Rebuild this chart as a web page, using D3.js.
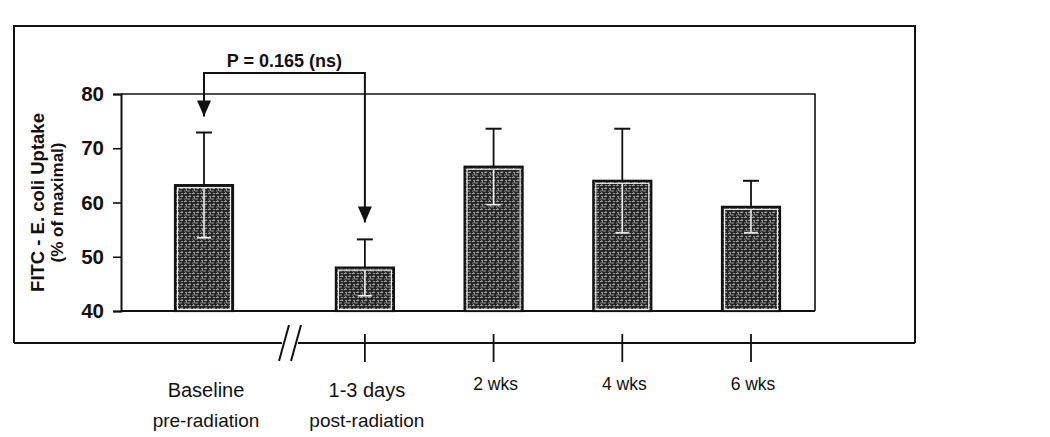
<!DOCTYPE html>
<html><head><meta charset="utf-8">
<script src="https://cdn.jsdelivr.net/npm/d3@7/dist/d3.min.js"></script>
<style>
body{margin:0;background:#fff;}
text{font-family:"Liberation Sans",Arial,sans-serif;fill:#111;}
</style></head><body>
<svg id="c" width="1050" height="437"></svg>
<script>
// ---- data ----
const categories = ["Baseline", "1-3 days", "2 wks", "4 wks", "6 wks"];
const subLabels  = ["pre-radiation", "post-radiation", "", "", ""];
const slots      = [0, 1.25, 2.25, 3.25, 4.25];   // position along time axis (break after baseline)
const means      = [63.2, 48.0, 66.6, 64.0, 59.2];
const errors     = [9.7, 5.2, 7.0, 9.6, 4.8];
const yTicks     = [40, 50, 60, 70, 80];
const pLabel     = "P = 0.165 (ns)";
const yTitle1    = "FITC - E. coli Uptake";
const yTitle2    = "(% of maximal)";

const svg = d3.select("#c");

// layout
const plot = {left:121, right:815, top:94, bottom:311};
const frame = {left:14, right:915, top:26, bottom:343};

const x = d3.scaleLinear().domain([0, 4.25]).range([204, 751]);
const y = d3.scaleLinear().domain([40, 80]).range([plot.bottom, plot.top]);
const barW = 58;

// texture pattern for bars
const defs = svg.append("defs");
const pat = defs.append("pattern").attr("id","tex").attr("patternUnits","userSpaceOnUse")
  .attr("width",8).attr("height",8);
pat.append("rect").attr("width",8).attr("height",8).attr("fill","#262626");
pat.append("path").attr("d","M0,1.5h3M5,1.5h2M1,4.5h2M4,4.5h3M0,7h1.5M3,7h3M1.5,0v1M6,3v2M2.5,5v2")
  .attr("stroke","#b4b4b4").attr("stroke-width",0.8).attr("fill","none");

// outer frame (top, left, right) ; bottom acts as time axis
svg.append("path")
  .attr("d",`M${frame.left},${frame.bottom}V${frame.top}H${frame.right}V${frame.bottom}`)
  .attr("fill","none").attr("stroke","#111").attr("stroke-width",2);
// time axis line with break
const brk = 290;
svg.append("line").attr("x1",frame.left).attr("x2",brk-8).attr("y1",frame.bottom).attr("y2",frame.bottom)
  .attr("stroke","#111").attr("stroke-width",2);
svg.append("line").attr("x1",brk+8).attr("x2",frame.right).attr("y1",frame.bottom).attr("y2",frame.bottom)
  .attr("stroke","#111").attr("stroke-width",2);
[-6, 6].forEach(d=>{
  svg.append("line").attr("x1",brk+d+5).attr("y1",frame.bottom-18).attr("x2",brk+d-5).attr("y2",frame.bottom+18)
    .attr("stroke","#111").attr("stroke-width",2);
});
// time ticks (not for baseline)
svg.selectAll(".tt").data(slots.slice(1)).enter().append("line")
  .attr("x1",d=>x(d)).attr("x2",d=>x(d)).attr("y1",frame.bottom-9).attr("y2",frame.bottom+19)
  .attr("stroke","#111").attr("stroke-width",1.8);

// plot box: top and right lines
svg.append("path")
  .attr("d",`M${plot.left},${plot.top}H${plot.right}V${plot.bottom}`)
  .attr("fill","none").attr("stroke","#111").attr("stroke-width",1.6);

// y axis
const yAxis = d3.axisLeft(y).tickValues(yTicks).tickSize(8).tickPadding(9);
const gy = svg.append("g").attr("transform",`translate(${plot.left},0)`).call(yAxis);
gy.select(".domain").attr("stroke","#111").attr("stroke-width",2);
gy.selectAll(".tick line").attr("stroke","#111").attr("stroke-width",1.6);
gy.selectAll(".tick text").attr("font-size",20.5).attr("font-weight","bold").style("font-family","Liberation Sans, Arial, sans-serif");

// x axis baseline
svg.append("line").attr("x1",plot.left).attr("x2",plot.right).attr("y1",plot.bottom).attr("y2",plot.bottom)
  .attr("stroke","#111").attr("stroke-width",2);

// y title
const yt = svg.append("g").attr("transform",`translate(44,${(plot.top+plot.bottom)/2}) rotate(-90)`);
yt.append("text").attr("text-anchor","middle").attr("y",0).attr("font-size",18.5).attr("font-weight","bold").text(yTitle1);
yt.append("text").attr("text-anchor","middle").attr("y",19).attr("font-size",17).attr("font-weight","bold").text(yTitle2);

// bars
const data = categories.map((c,i)=>({c, s:slots[i], m:means[i], e:errors[i], sub:subLabels[i]}));
const bars = svg.selectAll(".bar").data(data).enter().append("g");
bars.append("rect")
  .attr("x",d=>x(d.s)-barW/2).attr("width",barW)
  .attr("y",d=>y(d.m)).attr("height",d=>y(40)-y(d.m))
  .attr("fill","url(#tex)").attr("stroke","#111").attr("stroke-width",2.2);
bars.append("rect")
  .attr("x",d=>x(d.s)-barW/2+2.5).attr("width",barW-5)
  .attr("y",d=>y(d.m)+2.5).attr("height",d=>y(40)-y(d.m)-4)
  .attr("fill","none").attr("stroke","#eee").attr("stroke-width",1.2);
// error bars: upper black, lower inside bar in light
bars.append("line").attr("x1",d=>x(d.s)).attr("x2",d=>x(d.s))
  .attr("y1",d=>y(d.m)).attr("y2",d=>y(d.m+d.e)).attr("stroke","#111").attr("stroke-width",1.8);
bars.append("line").attr("x1",d=>x(d.s)-8).attr("x2",d=>x(d.s)+8)
  .attr("y1",d=>y(d.m+d.e)).attr("y2",d=>y(d.m+d.e)).attr("stroke","#111").attr("stroke-width",2);
bars.append("line").attr("x1",d=>x(d.s)).attr("x2",d=>x(d.s))
  .attr("y1",d=>y(d.m)+3).attr("y2",d=>y(d.m-d.e)).attr("stroke","#eee").attr("stroke-width",1.6);
bars.append("line").attr("x1",d=>x(d.s)-7).attr("x2",d=>x(d.s)+7)
  .attr("y1",d=>y(d.m-d.e)).attr("y2",d=>y(d.m-d.e)).attr("stroke","#eee").attr("stroke-width",1.6);

// category labels
bars.append("text").attr("x",d=>x(d.s)+2).attr("y",d=>d.sub? 397 : 390)
  .attr("text-anchor","middle").attr("font-size",d=>d.sub?20:17.5).text(d=>d.c);
bars.append("text").attr("x",d=>x(d.s)+2).attr("y",427)
  .attr("text-anchor","middle").attr("font-size",19).text(d=>d.sub);

// significance bracket
const xa = x(slots[0]), xb = x(slots[1]);
const yBr = 73;
svg.append("path")
  .attr("d",`M${xa},${y(means[0]+errors[0])-16}V${yBr}H${xb}V${y(means[1]+errors[1])-17}`)
  .attr("fill","none").attr("stroke","#111").attr("stroke-width",2);
[[xa, y(means[0]+errors[0])-16],[xb, y(means[1]+errors[1])-17]].forEach(([px,py])=>{
  svg.append("path").attr("d",`M${px-7},${py-16}L${px+7},${py-16}L${px},${py}Z`).attr("fill","#111");
});
svg.append("text").attr("x",(xa+xb)/2).attr("y",yBr-6).attr("text-anchor","middle")
  .attr("font-size",18).attr("font-weight","bold").text(pLabel);
</script>
</body></html>
